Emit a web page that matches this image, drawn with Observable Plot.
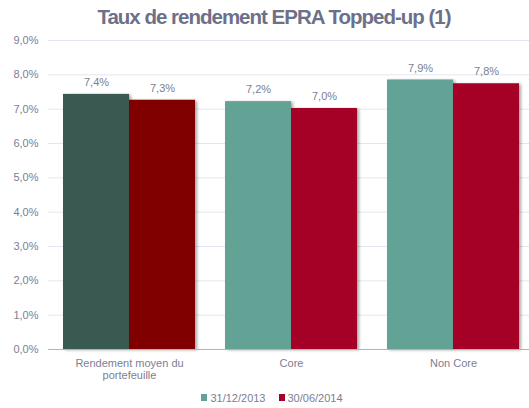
<!DOCTYPE html>
<html><head><meta charset="utf-8">
<script src="https://cdn.jsdelivr.net/npm/d3@7"></script>
<script src="https://cdn.jsdelivr.net/npm/@observablehq/plot@0.6"></script>
<style>
body{margin:0;background:#fff;font-family:"Liberation Sans",Arial,sans-serif;}
#title{height:32px;line-height:33px;text-align:center;padding-left:19px;font-size:20.5px;letter-spacing:-1px;font-weight:bold;color:#6d7089;}
#legend{height:21px;display:flex;justify-content:center;align-items:center;padding-left:15px;font-size:11px;color:#7b7e92;}
#legend .item{display:flex;align-items:center;margin:0 6.5px;}
#legend .sw{width:6px;height:7px;margin-right:3px;}
</style></head><body>
<div id="title">Taux de rendement EPRA Topped-up (1)</div>
<div id="chart"></div>
<div id="legend"></div>
<script>
const categories = ["Rendement moyen du\nportefeuille", "Core", "Non Core"];
const series = ["31/12/2013", "30/06/2014"];
const values2013 = [7.43, 7.22, 7.85];
const values2014 = [7.26, 7.02, 7.74];
const labels2013 = ["7,4%", "7,2%", "7,9%"];
const labels2014 = ["7,3%", "7,0%", "7,8%"];
const yTicks = [0, 1, 2, 3, 4, 5, 6, 7, 8, 9];
const colors = ["#62a396", "#a50026"];
const firstGroupColors = ["#3a5a51", "#800000"];

const rows2013 = categories.map((c, i) => ({category: c, idx: i, value: values2013[i], label: labels2013[i]}));
const rows2014 = categories.map((c, i) => ({category: c, idx: i, value: values2014[i], label: labels2014[i]}));
const textColor = "#7b7e92";

const chart = Plot.plot({
  width: 529,
  height: 355,
  marginTop: 8,
  marginBottom: 38,
  marginLeft: 48,
  marginRight: 0,
  style: {fontSize: "11px", fontFamily: "Liberation Sans, Arial, sans-serif", color: textColor, background: "#fff"},
  x: {domain: categories, paddingInner: 0.185, paddingOuter: 0.077, align: 0.6},
  y: {domain: [0, 9]},
  color: {type: "identity"},
  marks: [
    Plot.ruleY(yTicks.slice(1), {stroke: "#e1e7f2", strokeWidth: 1}),
    Plot.barY(rows2013, {x: "category", y: "value", insetRight: 66,
      fill: d => d.idx === 0 ? firstGroupColors[0] : colors[0]}),
    Plot.barY(rows2014, {x: "category", y: "value", insetLeft: 66,
      fill: d => d.idx === 0 ? firstGroupColors[1] : colors[1]}),
    Plot.ruleY([0], {stroke: "#b0b3bd", strokeWidth: 1}),
    Plot.text(rows2013, {x: "category", y: "value", text: "label", dx: -33, dy: -12, fill: textColor, fontSize: 11}),
    Plot.text(rows2014, {x: "category", y: "value", text: "label", dx: 33, dy: -12, fill: textColor, fontSize: 11}),
    Plot.axisY(yTicks, {tickSize: 0, tickPadding: 10, label: null,
      tickFormat: d => d.toFixed(1).replace(".", ",") + "%"}),
    Plot.axisX({tickSize: 0, tickPadding: 9, label: null, lineHeight: 1.1})
  ]
});
chart.querySelectorAll('g[aria-label="bar"]').forEach(g => {
  g.style.filter = "drop-shadow(2px 1px 1.5px rgba(0,0,0,0.35))";
});
document.getElementById("chart").appendChild(chart);

const legend = document.getElementById("legend");
series.forEach((s, i) => {
  const item = document.createElement("div");
  item.className = "item";
  const sw = document.createElement("span");
  sw.className = "sw";
  sw.style.background = colors[i];
  const t = document.createElement("span");
  t.textContent = s;
  item.appendChild(sw);
  item.appendChild(t);
  legend.appendChild(item);
});
</script>
</body></html>
